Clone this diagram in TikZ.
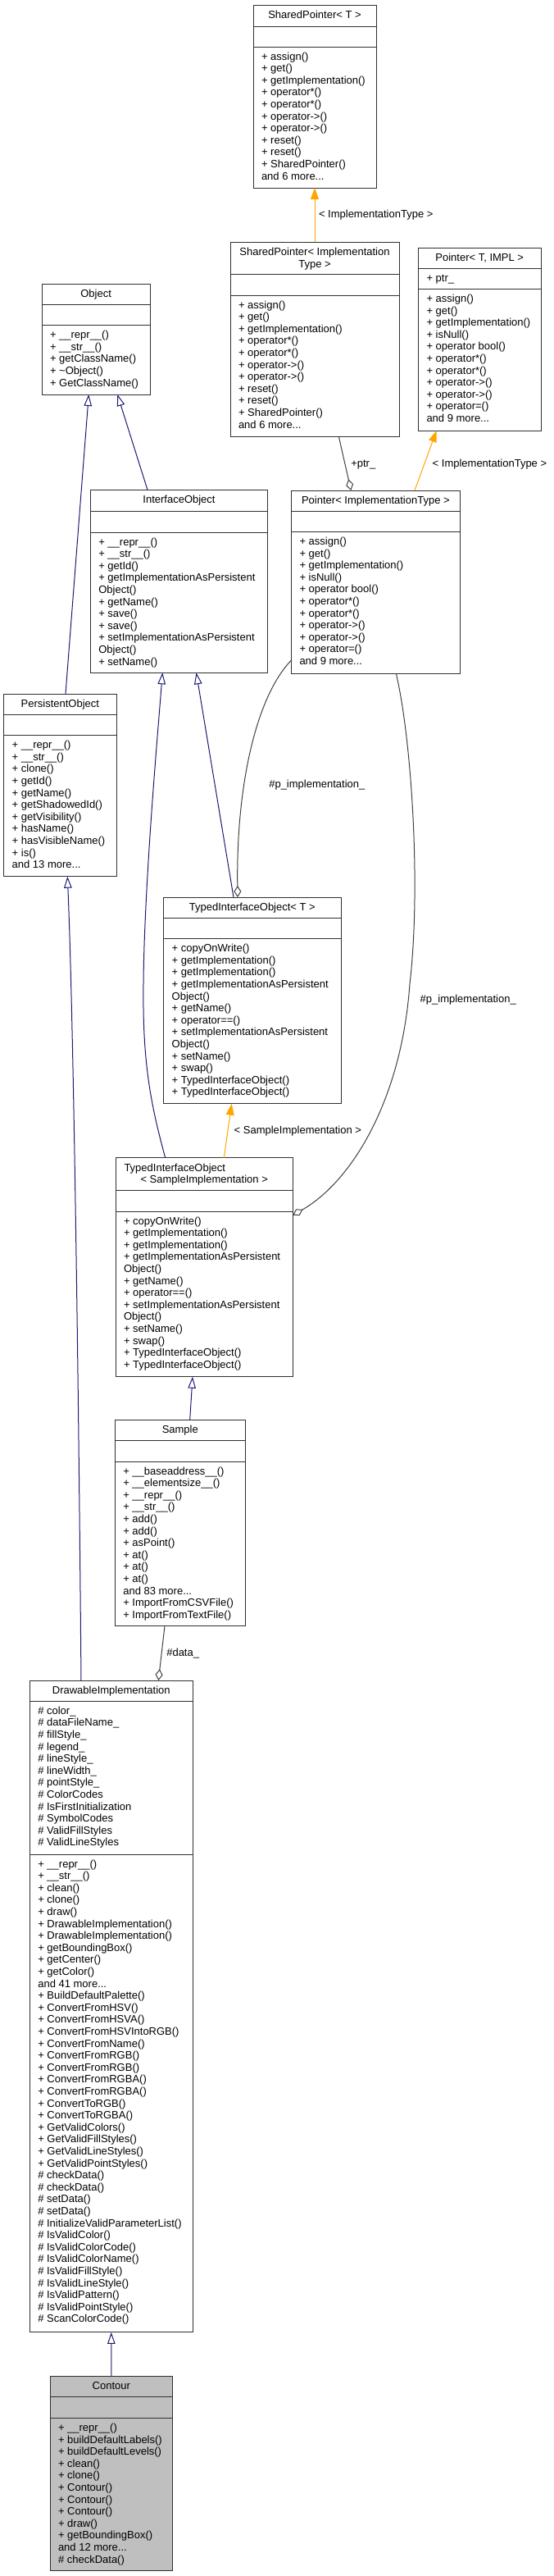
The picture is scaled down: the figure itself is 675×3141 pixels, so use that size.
\documentclass[tikz,border=0pt]{standalone}
\usepackage{fontspec}
\setmainfont{Liberation Sans}
\usetikzlibrary{arrows.meta}
\definecolor{edgeblue}{HTML}{191970}
\definecolor{edgeorange}{HTML}{FFA500}
\definecolor{edgegray}{HTML}{404040}
\definecolor{boxline}{HTML}{303030}
\definecolor{boxfill}{HTML}{BFBFBF}
\tikzset{
 classbox/.style={draw=boxline, line width=1pt, fill=white, inner sep=0pt, outer sep=0pt, anchor=north west, rectangle},
 divider/.style={draw=boxline, line width=1pt},
 umltext/.style={inner sep=0pt, outer sep=0pt, font=\fontsize{13pt}{14.6pt}\selectfont},
 members/.style={umltext, align=left, anchor=north west},
 titletext/.style={umltext, anchor=base},
 elabel/.style={umltext, anchor=base west},
 inherit/.style={draw=edgeblue, line width=1pt, -{Triangle[open, length=14pt, width=9.5pt]}},
 templ/.style={draw=edgeorange, line width=1pt, -{Triangle[length=14pt, width=10pt, fill=edgeorange]}},
 usage/.style={draw=edgegray, line width=1pt, -{Diamond[open, length=14pt, width=9pt]}},
}
% name, x1, y1, x2, y2, divider1, divider2
\newcommand\umlclass[8][]{%
 \node[classbox,#1,minimum width={(#5-#3)*1pt},minimum height={(#6-#4)*1pt}] (#2) at (#3,#4) {};
 \draw[divider] (#3,#7) -- (#5,#7);
 \draw[divider] (#3,#8) -- (#5,#8);
}
\newcommand\umllines[4]{\node[members] (#1) at (#2,#3) {\rule{0pt}{11pt}#4};}
\begin{document}
\begin{tikzpicture}[x=1pt,y=-1pt]
\useasboundingbox (0,0) rectangle (675,3141);

% ---------- classes ----------
\umlclass{spT}{309}{6}{459}{229}{32}{57}
\node[titletext] (spT-t) at (384,22) {SharedPointer< T >};
\umllines{spT-m}{319}{62}{+ assign()\\+ get()\\+ getImplementation()\\+ operator*()\\+ operator*()\\+ operator->()\\+ operator->()\\+ reset()\\+ reset()\\+ SharedPointer()\\and 6 more...}

\umlclass{spIT}{281}{295}{487}{532}{334.5}{360}
\node[titletext] (spIT-t1) at (384,311.4) {SharedPointer< Implementation};
\node[titletext] (spIT-t2) at (384,326) {Type >};
\umllines{spIT-m}{291}{365}{+ assign()\\+ get()\\+ getImplementation()\\+ operator*()\\+ operator*()\\+ operator->()\\+ operator->()\\+ reset()\\+ reset()\\+ SharedPointer()\\and 6 more...}

\umlclass{pTI}{510.5}{302}{660}{525}{327}{352.5}
\node[titletext] (pTI-t) at (585.25,318) {Pointer< T, IMPL >};
\umllines{pTI-a}{520.5}{332}{+ ptr\_}
\umllines{pTI-m}{520.5}{357.5}{+ assign()\\+ get()\\+ getImplementation()\\+ isNull()\\+ operator bool()\\+ operator*()\\+ operator*()\\+ operator->()\\+ operator->()\\+ operator=()\\and 9 more...}

\umlclass{pIT}{355.5}{598}{561.3}{821}{623}{648.5}
\node[titletext] (pIT-t) at (458.4,614) {Pointer< ImplementationType >};
\umllines{pIT-m}{365.5}{653.5}{+ assign()\\+ get()\\+ getImplementation()\\+ isNull()\\+ operator bool()\\+ operator*()\\+ operator*()\\+ operator->()\\+ operator->()\\+ operator=()\\and 9 more...}

\umlclass{obj}{51}{346}{183.3}{481}{371}{396.7}
\node[titletext] (obj-t) at (117.15,362) {Object};
\umllines{obj-m}{61}{401.7}{+ \_\_repr\_\_()\\+ \_\_str\_\_()\\+ getClassName()\\+ \textasciitilde Object()\\+ GetClassName()}

\umlclass{iobj}{110.3}{597.3}{326.7}{820.3}{623.3}{649}
\node[titletext] (iobj-t) at (218.5,613.3) {InterfaceObject};
\umllines{iobj-m}{120.3}{654}{+ \_\_repr\_\_()\\+ \_\_str\_\_()\\+ getId()\\+ getImplementationAsPersistent\\Object()\\+ getName()\\+ save()\\+ save()\\+ setImplementationAsPersistent\\Object()\\+ setName()}

\umlclass{pobj}{4.7}{846}{142}{1068.7}{871}{896.7}
\node[titletext] (pobj-t) at (73.35,862) {PersistentObject};
\umllines{pobj-m}{14.7}{901.7}{+ \_\_repr\_\_()\\+ \_\_str\_\_()\\+ clone()\\+ getId()\\+ getName()\\+ getShadowedId()\\+ getVisibility()\\+ hasName()\\+ hasVisibleName()\\+ is()\\and 13 more...}

\umlclass{tioT}{199.7}{1094}{416}{1345.7}{1119}{1144.7}
\node[titletext] (tioT-t) at (307.85,1110) {TypedInterfaceObject< T >};
\umllines{tioT-m}{209.7}{1149.7}{+ copyOnWrite()\\+ getImplementation()\\+ getImplementation()\\+ getImplementationAsPersistent\\Object()\\+ getName()\\+ operator==()\\+ setImplementationAsPersistent\\Object()\\+ setName()\\+ swap()\\+ TypedInterfaceObject()\\+ TypedInterfaceObject()}

\umlclass{tioS}{141}{1411.7}{357.3}{1678.7}{1451.7}{1477}
\node[umltext, anchor=base west] (tioS-t1) at (151.5,1428) {TypedInterfaceObject};
\node[titletext] (tioS-t2) at (249.2,1442.6) {< SampleImplementation >};
\umllines{tioS-m}{151}{1482}{+ copyOnWrite()\\+ getImplementation()\\+ getImplementation()\\+ getImplementationAsPersistent\\Object()\\+ getName()\\+ operator==()\\+ setImplementationAsPersistent\\Object()\\+ setName()\\+ swap()\\+ TypedInterfaceObject()\\+ TypedInterfaceObject()}

\umlclass{sample}{140.3}{1731}{299.3}{1982.7}{1756.3}{1782}
\node[titletext] (sample-t) at (219.8,1747) {Sample};
\umllines{sample-m}{150.3}{1787}{+ \_\_baseaddress\_\_()\\+ \_\_elementsize\_\_()\\+ \_\_repr\_\_()\\+ \_\_str\_\_()\\+ add()\\+ add()\\+ asPoint()\\+ at()\\+ at()\\+ at()\\and 83 more...\\+ ImportFromCSVFile()\\+ ImportFromTextFile()}

\umlclass{dimpl}{36.3}{2049}{235.3}{2843.9}{2074.3}{2261}
\node[titletext] (dimpl-t) at (135.8,2065) {DrawableImplementation};
\umllines{dimpl-a}{46.3}{2079.3}{\# color\_\\\# dataFileName\_\\\# fillStyle\_\\\# legend\_\\\# lineStyle\_\\\# lineWidth\_\\\# pointStyle\_\\\# ColorCodes\\\# IsFirstInitialization\\\# SymbolCodes\\\# ValidFillStyles\\\# ValidLineStyles}
\umllines{dimpl-m}{46.3}{2266}{+ \_\_repr\_\_()\\+ \_\_str\_\_()\\+ clean()\\+ clone()\\+ draw()\\+ DrawableImplementation()\\+ DrawableImplementation()\\+ getBoundingBox()\\+ getCenter()\\+ getColor()\\and 41 more...\\+ BuildDefaultPalette()\\+ ConvertFromHSV()\\+ ConvertFromHSVA()\\+ ConvertFromHSVIntoRGB()\\+ ConvertFromName()\\+ ConvertFromRGB()\\+ ConvertFromRGB()\\+ ConvertFromRGBA()\\+ ConvertFromRGBA()\\+ ConvertToRGB()\\+ ConvertToRGBA()\\+ GetValidColors()\\+ GetValidFillStyles()\\+ GetValidLineStyles()\\+ GetValidPointStyles()\\\# checkData()\\\# checkData()\\\# setData()\\\# setData()\\\# InitializeValidParameterList()\\\# IsValidColor()\\\# IsValidColorCode()\\\# IsValidColorName()\\\# IsValidFillStyle()\\\# IsValidLineStyle()\\\# IsValidPattern()\\\# IsValidPointStyle()\\\# ScanColorCode()}

\umlclass[fill=boxfill]{contour}{61}{2897.1}{210.7}{3134.8}{2922.6}{2948.5}
\node[titletext] (contour-t) at (135.85,2913.1) {Contour};
\umllines{contour-m}{71}{2953.5}{+ \_\_repr\_\_()\\+ buildDefaultLabels()\\+ buildDefaultLevels()\\+ clean()\\+ clone()\\+ Contour()\\+ Contour()\\+ Contour()\\+ draw()\\+ getBoundingBox()\\and 12 more...\\\# checkData()}

% ---------- connectors ----------
\draw[templ] ([xshift=103pt]spIT.north west) -- ([xshift=75pt]spT.south west);
\node[elabel] (l1) at (389,265.5) {< ImplementationType >};

\draw[usage] ([xshift=132.3pt]spIT.south west) -- ([xshift=72.8pt]pIT.north west);
\node[elabel] (l2) at (428.3,569) {+ptr\_};

\draw[templ] ([xshift=150.5pt]pIT.north west) -- ([xshift=22.2pt]pTI.south west);
\node[elabel] (l3) at (527.7,569) {< ImplementationType >};

\draw[inherit] ([xshift=75.3pt]pobj.north west) -- ([xshift=57.3pt]obj.south west);
\draw[inherit] ([xshift=69.7pt]iobj.north west) -- ([xshift=92.3pt]obj.south west);
\draw[inherit] ([xshift=85.3pt]tioT.north west) -- ([xshift=129.2pt]iobj.south west);
\draw[inherit] ([xshift=60.7pt]tioS.north west) .. controls (182,1340) and (174,1290) .. (175,1200) .. controls (176,1080) and (192,900) .. ([xshift=88pt]iobj.south west);

\draw[templ] ([xshift=132.3pt]tioS.north west) -- ([xshift=83pt]tioT.south west);
\node[elabel] (l4) at (285.7,1382) {< SampleImplementation >};

\draw[usage] ([yshift=-207pt]pIT.north west) .. controls (312,850) and (288,960) .. ([xshift=90.3pt]tioT.north west);
\node[elabel] (l5) at (328.3,960.5) {\#p\_implementation\_};

\draw[usage] ([xshift=127.8pt]pIT.south west) .. controls (502,900) and (514,1080) .. (500,1200) .. controls (490,1340) and (430,1440) .. ([yshift=-70pt]tioS.north east);
\node[elabel] (l6) at (512.7,1222.5) {\#p\_implementation\_};

\draw[inherit] ([xshift=91.4pt]sample.north west) -- ([xshift=94pt]tioS.south west);

\draw[inherit] ([xshift=62.7pt]dimpl.north west) .. controls (96,1700) and (90,1250) .. ([xshift=77.6pt]pobj.south west);

\draw[usage] ([xshift=60.7pt]sample.south west) -- ([xshift=157pt]dimpl.north west);
\node[elabel] (l7) at (203.3,2019.5) {\#data\_};

\draw[inherit] (contour.north) -- (dimpl.south);
\end{tikzpicture}
\end{document}
